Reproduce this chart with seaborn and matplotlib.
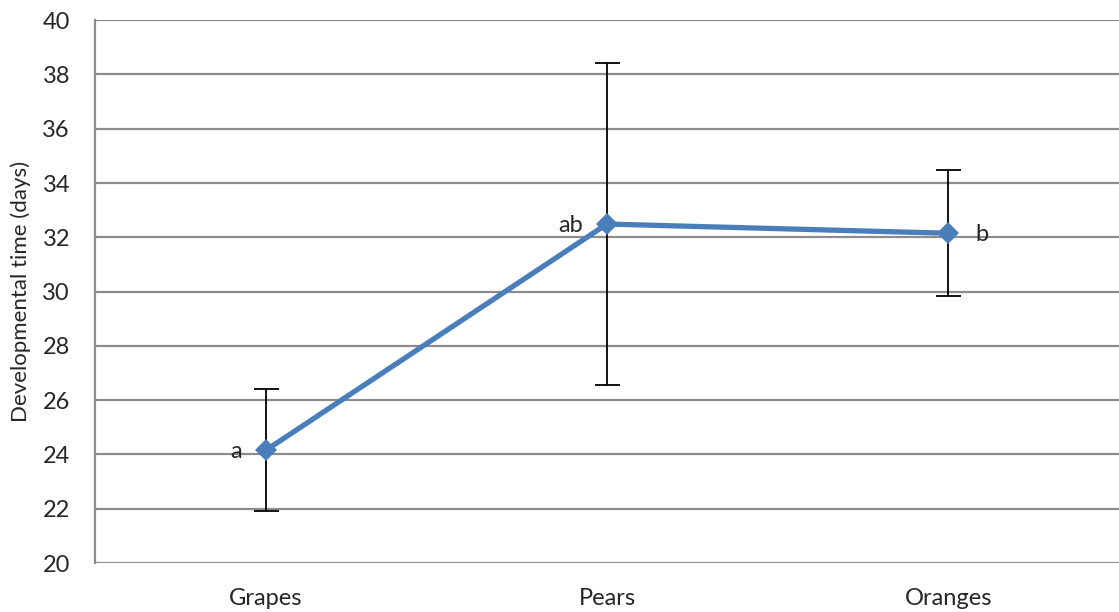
import matplotlib
matplotlib.use("Agg")
import matplotlib.pyplot as plt
import seaborn as sns
import pandas as pd
import numpy as np

categories = ["Grapes", "Pears", "Oranges"]
means = [24.15, 32.49, 32.15]
errors = [2.25, 5.93, 2.32]
letters = ["a", "ab", "b"]
yticks = [20, 22, 24, 26, 28, 30, 32, 34, 36, 38, 40]

sns.set_theme(style="white")
plt.rcParams['font.family'] = ['Lato', 'DejaVu Sans']

df = pd.DataFrame({"Food": categories, "Time": means, "Err": errors})
pos = np.arange(len(categories))

fig = plt.figure(figsize=(11.19, 6.12), dpi=100)
ax = fig.add_axes([0.0849, 0.080, 0.915, 0.887])

grid_c = "#8c8c8c"
fs = 17
for v in yticks:
    ax.axhline(v, color=grid_c, lw=1.6, zorder=0)

ax.errorbar(pos, df["Time"], yerr=df["Err"], fmt="none", ecolor="black",
            elinewidth=1.3, capsize=9, capthick=1.3, zorder=2)

sns.lineplot(x=pos, y=df["Time"], ax=ax, color="#4A7EBB", lw=3.8,
             marker="D", markersize=11, markeredgewidth=0, zorder=3)

ax.set_xlim(-0.5, 2.5)
ax.set_ylim(20, 40)
ax.set_yticks(yticks)
ax.set_yticklabels([str(v) for v in yticks], fontsize=fs)
ax.set_xticks([-0.5, 0.5, 1.5, 2.5])
ax.set_xticklabels([])
ax.set_xticks(pos, minor=True)
ax.set_xticklabels(categories, minor=True, fontsize=fs)
ax.tick_params(axis="x", which="minor", length=0, pad=18)
ax.tick_params(axis="x", which="major", length=8, color=grid_c, width=1.3, direction="out")
ax.tick_params(axis="y", length=8, color=grid_c, width=1.3, direction="out", pad=10)

for s in ["top", "right", "bottom"]:
    ax.spines[s].set_visible(False)
ax.spines["left"].set_color(grid_c)
ax.spines["left"].set_linewidth(1.6)

ax.set_ylabel("Developmental time (days)", fontsize=16, labelpad=8)
ax.set_xlabel("")

offsets = [(-0.07, "right"), (-0.07, "right"), (0.08, "left")]
for i, (lab, (dx, ha)) in enumerate(zip(letters, offsets)):
    ax.text(pos[i] + dx, means[i] - 0.05, lab, ha=ha, va="center", fontsize=fs)

fig.savefig("out.png", dpi=100)
